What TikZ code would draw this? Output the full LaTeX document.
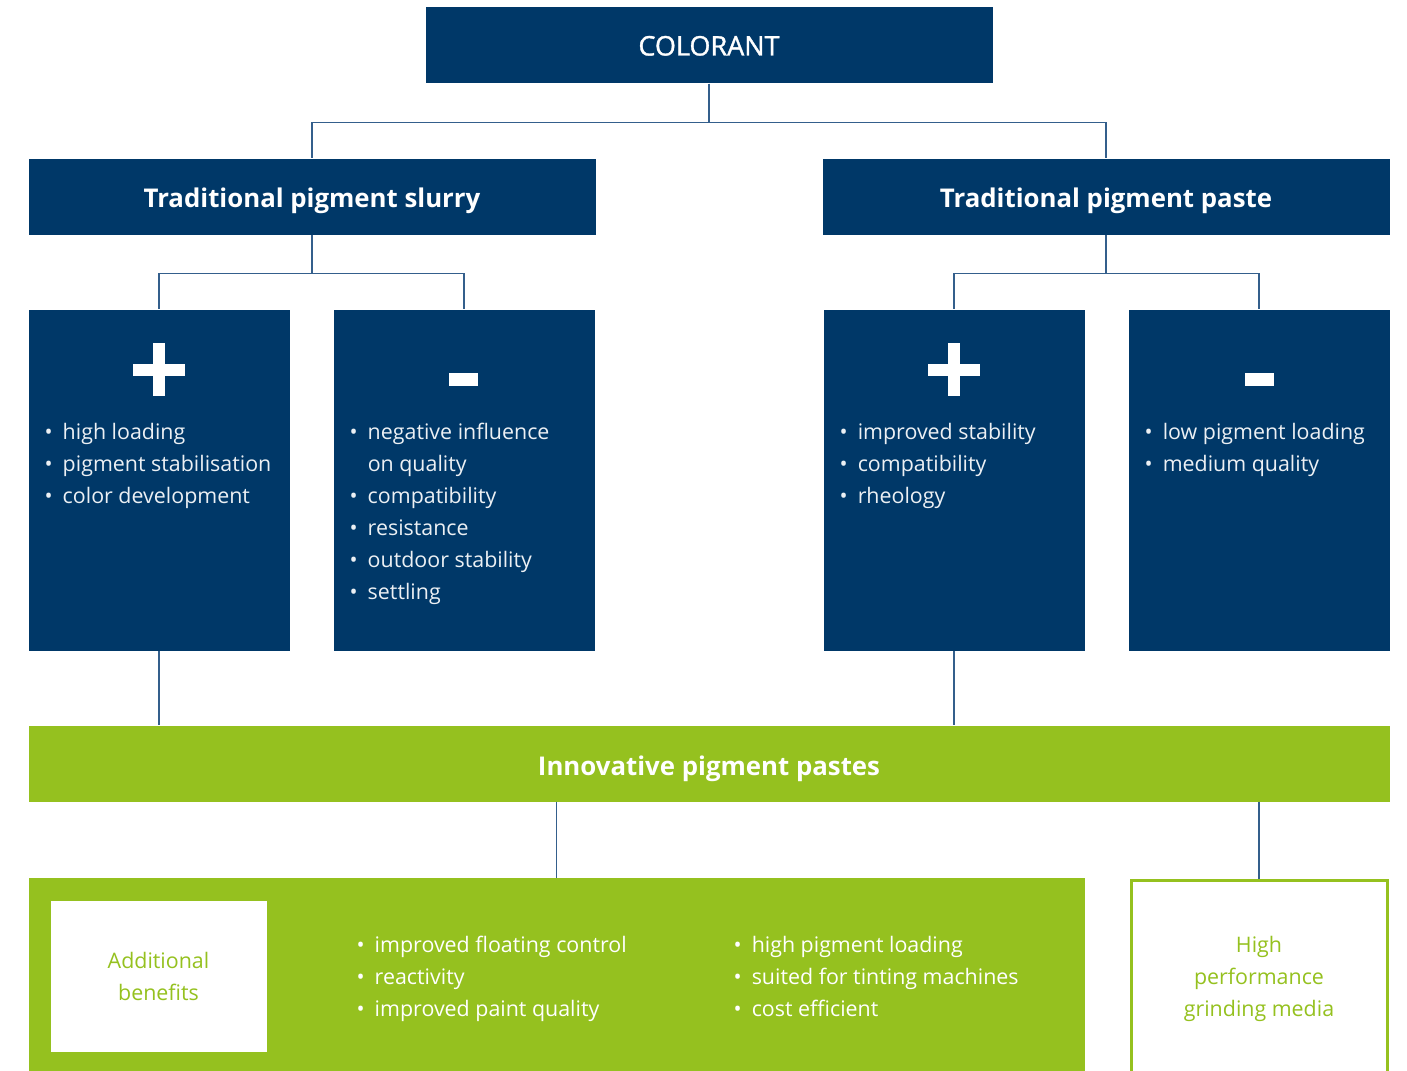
\documentclass[tikz,border=0pt]{standalone}
\usepackage{fontspec}
\setmainfont{Open Sans}
\newfontfamily\medf{Open Sans}[FakeBold=1.2]
\usetikzlibrary{calc}
\definecolor{navy}{RGB}{0,56,104}
\definecolor{lime}{RGB}{149,193,31}
\definecolor{linkc}{RGB}{52,95,140}
\definecolor{paletext}{RGB}{236,240,244}
\tikzset{
  navybox/.style={fill=navy, draw=none, inner sep=0pt, text=white},
  headtext/.style={font=\fontsize{25.8}{30}\selectfont\bfseries, text height=22pt, text depth=0pt},
  link/.style={draw=linkc, line width=1.5pt},
  bullets/.style={anchor=base west, inner sep=0pt, text=paletext, font=\fontsize{21.4}{32}\selectfont},
  gbullets/.style={anchor=base west, inner sep=0pt, text=white, font=\fontsize{21.4}{32}\selectfont},
  signbar/.style={fill=white, draw=none},
}
\newcommand{\bl}{\textbullet}
\begin{document}
\begin{tikzpicture}[x=1pt,y=-1pt]
\useasboundingbox (0,0) rectangle (1407,1070);
\fill[white] (0,0) rectangle (1407,1070);

% top
\node[navybox, minimum width=567pt, minimum height=76pt, font=\fontsize{27}{30}\medf, text height=20pt, text depth=0pt] (colorant) at (709,45.5) {COLORANT};
\node[navybox, headtext, minimum width=567pt, minimum height=76pt] (slurry) at (312,196.5) {Traditional pigment slurry};
\node[navybox, headtext, minimum width=567pt, minimum height=76pt] (paste) at (1106,196.5) {Traditional pigment paste};

\draw[link] (colorant.south) -- ++(0,39) -| (slurry.north);
\draw[link] (colorant.south) -- ++(0,39) -| (paste.north);

% four boxes
\node[navybox, minimum width=261pt, minimum height=341pt] (sp) at (159,480) {};
\node[navybox, minimum width=261pt, minimum height=341pt] (sm) at (464,480) {};
\node[navybox, minimum width=261pt, minimum height=341pt] (pp) at (954,480) {};
\node[navybox, minimum width=261pt, minimum height=341pt] (pm) at (1259,480) {};

\draw[link] (slurry.south) -- ++(0,39) -| (sp.north);
\draw[link] (slurry.south) -- ++(0,39) -| (sm.north);
\draw[link] (paste.south) -- ++(0,39) -| (pp.north);
\draw[link] (paste.south) -- ++(0,39) -| (pm.north);

% signs
\fill[signbar] (153,343) rectangle (165,396);
\fill[signbar] (133,363.5) rectangle (185,376);
\fill[signbar] (449,373) rectangle (478,386);
\fill[signbar] (948,343) rectangle (960,396);
\fill[signbar] (928,363.5) rectangle (980,376);
\fill[signbar] (1245,373) rectangle (1274,386);

% bullet texts
\node[bullets] (tsp) at (44.5,439) {\begin{tabular}[t]{@{}l@{\hspace{10pt}}l@{}}\bl & high loading\\ \bl & pigment stabilisation\\ \bl & color development\end{tabular}};
\node[bullets] (tsm) at (349.5,439) {\begin{tabular}[t]{@{}l@{\hspace{10pt}}l@{}}\bl & negative influence\\ & on quality\\ \bl & compatibility\\ \bl & resistance\\ \bl & outdoor stability\\ \bl & settling\end{tabular}};
\node[bullets] (tpp) at (839.5,439) {\begin{tabular}[t]{@{}l@{\hspace{10pt}}l@{}}\bl & improved stability\\ \bl & compatibility\\ \bl & rheology\end{tabular}};
\node[bullets] (tpm) at (1144.5,439) {\begin{tabular}[t]{@{}l@{\hspace{10pt}}l@{}}\bl & low pigment loading\\ \bl & medium quality\end{tabular}};

% green bar
\node[fill=lime, inner sep=0pt, text=white, headtext, text height=23.5pt, minimum width=1361pt, minimum height=76pt] (innov) at (709,763.5) {Innovative pigment pastes};
\draw[link] (sp.south) -- (sp.south |- innov.north);
\draw[link] (pp.south) -- (pp.south |- innov.north);

% bottom boxes
\node[fill=lime, inner sep=0pt, minimum width=1056pt, minimum height=212pt] (benefits) at (556.5,984) {};
\node[fill=white, draw=lime, line width=3pt, inner sep=0pt, minimum width=256pt, minimum height=212pt] (hpgm) at (1259,986) {};
\draw[link] (innov.south -| benefits.north) -- (benefits.north);
\draw[link] (innov.south -| hpgm.north) -- (hpgm.north);

\node[fill=white, inner sep=0pt, minimum width=216pt, minimum height=151pt, text=lime, align=center, font=\fontsize{21.4}{32}\selectfont] (addben) at (158.5,976.5) {Additional\\benefits};
\node[text=lime, align=center, inner sep=0pt, font=\fontsize{21.4}{32}\selectfont] (hptext) at (1259,979) {High\\performance\\grinding media};

\node[gbullets] (tb1) at (356.5,952) {\begin{tabular}[t]{@{}l@{\hspace{10pt}}l@{}}\bl & improved floating control\\ \bl & reactivity\\ \bl & improved paint quality\end{tabular}};
\node[gbullets] (tb2) at (733.5,952) {\begin{tabular}[t]{@{}l@{\hspace{10pt}}l@{}}\bl & high pigment loading\\ \bl & suited for tinting machines\\ \bl & cost efficient\end{tabular}};
\end{tikzpicture}
\end{document}
